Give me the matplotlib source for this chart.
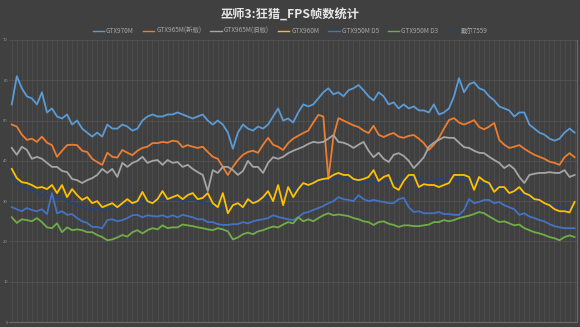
import numpy as np
import matplotlib
matplotlib.use('Agg')
from matplotlib import pyplot as plt

plt.rcParams['font.family'] = ['Noto Sans CJK SC', 'DejaVu Sans']

#%% Data (FPS samples)
title = '巫师3:狂猎_FPS帧数统计'
names = ['GTX970M', 'GTX965M(新版)', 'GTX965M(旧版)', 'GTX960M',
         'GTX950M D5', 'GTX950M D3', '戴尔7559']
colors = ['#5B9BD5', '#ED7D31', '#A5A5A5', '#FFC000', '#4472C4', '#70AD47', '#264478']
yticks = [0, 10, 20, 30, 40, 50, 60, 70]

gtx970m = [54, 61, 58, 56, 55.5, 54, 57, 52, 53, 51,
           50.5, 51.5, 49, 50, 48, 47, 46, 47, 46, 49,
           48, 48, 49, 48.5, 47.5, 48, 50, 51, 51.5, 51,
           51, 51.5, 51.5, 52, 51.5, 51, 50.5, 51, 51.5, 50,
           49, 50, 49, 47, 43, 47, 49, 48, 47.5, 48.5,
           48, 49, 51, 53, 50, 50.5, 49.5, 52, 54, 53.5,
           54, 55.5, 57, 58, 56.5, 57, 56, 57.5, 58, 58.8,
           57.5, 56, 55, 57, 56, 54, 54.5, 53, 54, 53,
           53.5, 52.5, 52.5, 52, 54, 51.5, 52, 53, 56, 60.5,
           57, 59, 59.5, 58, 57.5, 56, 55, 53.5, 53, 52.5,
           51, 52, 52, 49, 48, 47, 46.5, 45.5, 45, 45.5,
           47, 48, 47]
gtx965m_new = [49, 48.5, 46.5, 45.2, 45.5, 44.7, 46, 44.5, 43.9, 41,
               42.5, 43.9, 44, 43.9, 42.5, 42.2, 40.5, 39.7, 39, 42,
               41, 40.8, 42.7, 42, 41.4, 42.5, 43.2, 43.5, 44.4, 44.4,
               44.7, 44.5, 45, 44.8, 43.4, 43.9, 43.5, 43.2, 43.5, 42.2,
               41, 40.5, 38.5, 36.5, 38.5, 40.2, 41.5, 42.2, 42.5, 42,
               44, 45.7, 44, 43.5, 42.7, 44.4, 45.5, 46.2, 46.9, 47.5,
               49.5, 51.4, 51, 35.5, 46, 50.6, 50, 49.4, 48.8, 48.4,
               47.5, 46.9, 48.7, 46.5, 45.9, 46.5, 46.9, 46, 45.7, 46.2,
               46.4, 45.5, 44.4, 42.7, 44, 45.7, 48, 50.1, 50.6, 49.5,
               49, 49.5, 50.1, 48.4, 47.8, 48.5, 49.4, 45.2, 44, 43.2,
               43.5, 43.9, 43, 42.2, 41.5, 41, 40.5, 39.8, 39.5, 39,
               40.9, 41.9, 40.9]
gtx965m_old = [43.2, 41.5, 43.5, 42.7, 40.5, 41, 40.5, 39.5, 38.5, 38.5,
               37.5, 37.2, 35.5, 35.2, 34.5, 35.2, 35.7, 36.5, 38, 37,
               38, 36, 39.5, 38.5, 39.5, 40, 41, 39.5, 40, 40.2,
               39, 40.2, 39.5, 39.7, 38.5, 39, 38, 37.2, 36.5, 32.5,
               37.7, 37, 38.5, 38.5, 37.7, 36.5, 37.5, 40, 38.5, 38.5,
               37, 39.5, 40.9, 40.5, 41, 41.9, 42.5, 43, 43.5, 44.2,
               44.7, 44.5, 44.7, 45.5, 46.4, 44.7, 44.5, 44, 43.2, 44,
               44.7, 42.5, 40.9, 42, 40.5, 39.7, 41.5, 41.9, 41.2, 40,
               38.2, 39.5, 40.9, 43.5, 44.5, 45.2, 45.9, 45.7, 45.7, 44.5,
               43.4, 43.2, 42.5, 42, 41.9, 41, 40.2, 39.5, 38.2, 39,
               38, 36, 34.5, 36.5, 36.8, 37, 37, 37.2, 37, 37,
               37.7, 36, 36.5]
gtx960m = [38, 35.7, 34.7, 34.5, 34, 33.3, 33.5, 33, 34, 32,
           34, 31, 33, 31.5, 30.3, 31, 29.5, 30, 28.5, 29,
           29.5, 28.5, 29.5, 30.5, 29.5, 30, 32.3, 30, 29.5, 30.5,
           32.5, 30.5, 31, 31.5, 30.5, 31.5, 32, 30.5, 30.8, 32,
           29.5, 28.5, 32, 27, 29, 29.5, 28.5, 30.5, 29.5, 30,
           31, 32.5, 30, 34, 29, 33.5, 31, 33, 34.5, 34,
           34.5, 35.2, 35.5, 35.7, 36.5, 37, 36.5, 36.5, 35.5, 35.2,
           35.5, 36, 37.7, 35, 36, 36.5, 33.5, 32.8, 35, 36.5,
           36.5, 33.5, 34.2, 34, 34, 33.5, 34, 34.5, 36.5, 36.5,
           36.5, 36, 32.8, 36, 35, 34.5, 32.3, 33.5, 33.5, 32,
           32.5, 33.5, 32, 31.5, 30.5, 30.3, 29.5, 29, 28, 27.5,
           27.5, 27.2, 29.8]
gtx950m_d5 = [28.5, 28, 27.5, 28.3, 27.8, 27.5, 28, 26.8, 32, 27,
              27.5, 26.6, 26.8, 25.8, 25, 24.6, 23.6, 23.6, 23.3, 25.3,
              25.5, 25, 25.3, 25.8, 26.5, 26.6, 26, 26.5, 26.3, 26.2,
              26.5, 26, 26.5, 26, 26.6, 26.3, 26, 25.5, 25.5, 24.8,
              24.8, 24.3, 24.1, 24.1, 24.3, 24.3, 24.8, 24.5, 25, 25.3,
              25.5, 25.8, 26.5, 26.1, 25.8, 25.5, 25.3, 26, 27, 27.3,
              27.8, 28.3, 28.8, 29.5, 30, 31, 30.5, 30.3, 30, 31.5,
              30.5, 30, 30.3, 30, 29.8, 29.5, 29.5, 30.5, 30.8, 28.5,
              27.3, 27.5, 27, 27, 27, 27.3, 26.8, 26.8, 26.6, 26.6,
              27.8, 30.5, 29.5, 29.8, 30.3, 30.3, 29.5, 29.8, 29, 28.5,
              28, 26.6, 27, 26.2, 25.8, 25.3, 25, 24.3, 23.8, 23.5,
              23.3, 23.3, 23.3]
gtx950m_d3 = [26, 24.6, 25.5, 25.3, 25, 25.8, 24.8, 23.5, 23.3, 24.5,
              22.3, 23.5, 22.8, 23, 22.8, 22.3, 22.3, 21.6, 21.1, 20.3,
              20.5, 21, 21.6, 21.2, 22.3, 22.8, 22, 22.8, 23.3, 23,
              24, 23.3, 23.5, 23.5, 24.2, 24, 23.8, 23.5, 23.3, 23,
              22.8, 23.3, 23, 22.5, 20.5, 21, 21.8, 22.2, 21.8, 22.5,
              22.8, 23.3, 23.7, 23.5, 24.2, 24.8, 24.5, 26, 25, 25.5,
              25, 25.8, 26.5, 27, 26.5, 26.7, 26.5, 26.3, 25.8, 25.5,
              25, 24.8, 24.1, 24.8, 25, 24.4, 24.1, 23.6, 24, 24,
              23.8, 23.8, 24, 24.2, 24.8, 24.8, 25.3, 25, 25.3, 25.8,
              26.1, 26.4, 26.8, 27.3, 27, 26.2, 25.5, 24.8, 25, 24.5,
              24, 24.2, 23.3, 22.8, 22.3, 22, 21.6, 21.1, 20.8, 20.3,
              21.1, 21.5, 21.1]
dell7559 = [36, 34.5, 33.5, 33, 32.8, 32, 31.5, 31.5, 31, 30.8,
            30.5, 30, 29.5, 29, 28.5, 28.3, 28, 28.2, 27.8, 28,
            28.5, 28.3, 28.8, 29, 29.3, 29.5, 30, 29.8, 30, 30.3,
            30.5, 30.2, 30.5, 30.3, 30, 30.2, 30.5, 30, 29.8, 29.5,
            28.8, 28.5, 28.3, 28, 28.5, 29, 29.3, 29.5, 30, 30.2,
            30.5, 31, 31.3, 31.5, 31.8, 32.3, 32.8, 33.2, 33.8, 34,
            34.3, 34.8, 35, 35.2, 35.5, 35.8, 35.5, 35.3, 35, 34.8,
            34.5, 34.8, 35, 34.5, 34.3, 34.5, 34.8, 35.2, 35.5, 35.8,
            36, 35.5, 35, 34.8, 35.2, 35.5, 35.3, 35, 35.2, 35.5,
            35.3, 35, 34.8, 34.5, 34.2, 34, 33.5, 33.2, 33, 32.5,
            32, 31.8, 31.5, 31, 30.5, 30, 29.5, 29.2, 28.8, 28.5,
            28.3, 28, 28.2]

series = [gtx970m, gtx965m_new, gtx965m_old, gtx960m, gtx950m_d5, gtx950m_d3, dell7559]

#%% Plot
bg = '#404040'
fig = plt.figure(figsize=(5.8, 3.27), dpi=100, facecolor=bg)
ax = fig.add_axes([0.016, 0.015, 0.979, 0.863], facecolor=bg)

n = len(gtx970m)
x = np.arange(n)

# category gridlines (one per sample) and value gridlines
for i in x:
    ax.axvline(i, color='#505050', lw=0.5, zorder=0)
for t in yticks:
    ax.axhline(t, color='#575757', lw=0.5, zorder=0)

# Dell series first so the others sit on top of it
order = [6, 0, 1, 2, 3, 4, 5]
handles = [None] * len(names)
for k in order:
    h, = ax.plot(x, series[k], color=colors[k], lw=1.3, label=names[k], zorder=2)
    handles[k] = h

ax.set_xlim(-0.5, n - 0.5)
ax.set_ylim(0, 70)
ax.set_xticks([])
ax.set_yticks(yticks)
ax.set_yticklabels([str(t) for t in yticks], fontsize=3, color='#9a9a9a')
ax.tick_params(axis='y', length=0, pad=1)
for s in ['top', 'left']:
    ax.spines[s].set_visible(False)
for s in ['bottom', 'right']:
    ax.spines[s].set_color('#6a6a6a')
    ax.spines[s].set_linewidth(0.8)

fig.text(0.5, 0.955, title, ha='center', va='center', fontsize=8.8,
         fontweight='bold', color='#e6e6e6')

leg = fig.legend(handles, names, loc='center', bbox_to_anchor=(0.5, 0.905), ncol=7,
                 frameon=False, fontsize=4.6, handlelength=1.8, handletextpad=0.3,
                 columnspacing=1.4)
for t in leg.get_texts():
    t.set_color('#a8a8a8')
for l in leg.get_lines():
    l.set_linewidth(1.0)

fig.savefig('out.png', dpi=100, facecolor=bg)
